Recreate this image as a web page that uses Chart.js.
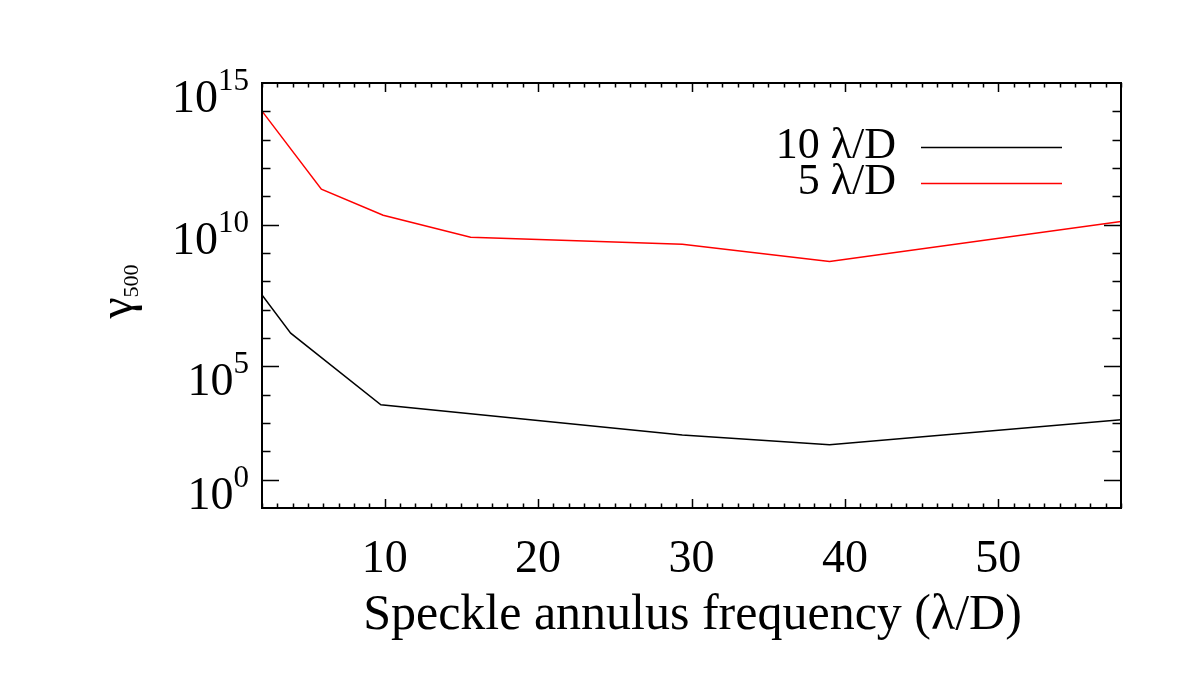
<!DOCTYPE html>
<html>
<head>
<meta charset="utf-8">
<script src="https://cdn.jsdelivr.net/npm/chart.js@4.4.1/dist/chart.umd.min.js"></script>
<style>
  html, body { margin: 0; padding: 0; background: #fff; }
  #wrap { width: 1200px; height: 675px; }
</style>
</head>
<body>
<div id="wrap"><canvas id="chart1" width="1200" height="675"></canvas></div>
<script>
// data (x in lambda/D, y = gamma_500)
const x10 = [2, 3.87, 9.75, 29.4, 39.0, 58];
const y10 = [3.31e7, 1.48e6, 4.37e3, 380, 170, 1.29e3];
const x5 = [2, 5.87, 9.9, 15.6, 29.4, 39.0, 58];
const y5 = [1.02e14, 1.78e11, 2.14e10, 3.63e9, 2.04e9, 5.01e8, 1.29e10];

const seriesLabels = ['10 \u03bb/D', '5 \u03bb/D'];
const xTickLabels = [10, 20, 30, 40, 50];
// major ticks on the y axis and the exponents printed next to them
// (the printed labels follow the original figure)
const yMajorTicks = [1e1, 1e5, 1e10, 1e15];
const yTickExponents = ['0', '5', '10', '15'];
const yMinorTicks = [1e1, 1e2, 1e3, 1e4, 1e5, 1e6, 1e7, 1e8, 1e9, 1e10, 1e11, 1e12, 1e13, 1e14];

const FONT = '"Liberation Serif", "DejaVu Serif", serif';

const toPoints = (xs, ys) => xs.map((x, i) => ({ x: x, y: ys[i] }));

const axesPlugin = {
    id: 'idlAxes',
    afterDraw(chart) {
        const ctx = chart.ctx;
        const xs = chart.scales.x, ys = chart.scales.y;
        const a = chart.chartArea;
        ctx.save();
        ctx.strokeStyle = '#000';
        ctx.fillStyle = '#000';
        ctx.lineWidth = 2;
        ctx.strokeRect(a.left, a.top, a.right - a.left, a.bottom - a.top);

        // x ticks, inward on bottom and top
        ctx.lineWidth = 1.5;
        ctx.beginPath();
        for (let v = Math.ceil(xs.min); v <= Math.floor(xs.max); v++) {
            const px = Math.round(xs.getPixelForValue(v)) + 0.5;
            const len = (v % 10 === 0) ? 9 : 4.5;
            ctx.moveTo(px, a.bottom); ctx.lineTo(px, a.bottom - len);
            ctx.moveTo(px, a.top); ctx.lineTo(px, a.top + len);
        }
        // y ticks, inward on left and right
        yMinorTicks.forEach(v => {
            const py = Math.round(ys.getPixelForValue(v)) + 0.5;
            const len = yMajorTicks.includes(v) ? 17 : 8.5;
            ctx.moveTo(a.left, py); ctx.lineTo(a.left + len, py);
            ctx.moveTo(a.right, py); ctx.lineTo(a.right - len, py);
        });
        ctx.stroke();

        // x tick labels
        ctx.font = '46px ' + FONT;
        ctx.textAlign = 'center';
        ctx.textBaseline = 'alphabetic';
        xTickLabels.forEach(v => {
            ctx.fillText(String(v), xs.getPixelForValue(v), 572);
        });
        // x title
        ctx.font = '50px ' + FONT;
        ctx.fillText('Speckle annulus frequency (\u03bb/D)', (a.left + a.right) / 2 + 1, 629);

        // y tick labels 10^n
        yMajorTicks.forEach((v, i) => {
            const py = ys.getPixelForValue(v);
            const sup = yTickExponents[i];
            ctx.font = '31px ' + FONT;
            const sw = ctx.measureText(sup).width;
            const right = a.left - 13;
            ctx.textAlign = 'right';
            ctx.fillText(sup, right, py + 7);
            ctx.font = '46px ' + FONT;
            ctx.fillText('10', right - sw, py + 29);
        });

        // y title: gamma with subscript 500, rotated
        ctx.translate(132, 296);
        ctx.rotate(-Math.PI / 2);
        ctx.textAlign = 'left';
        ctx.font = '48px ' + FONT;
        const gw = ctx.measureText('\u03b3').width;
        ctx.fillText('\u03b3', -gw / 2 - 12, 0);
        ctx.font = '22px ' + FONT;
        ctx.fillText('500', gw / 2 - 12, 6);
        ctx.restore();

        // legend: text on the left, line sample on the right
        ctx.save();
        ctx.font = '44px ' + FONT;
        ctx.textAlign = 'right';
        chart.data.datasets.forEach((ds, i) => {
            const base = 158 + i * 36;
            ctx.fillStyle = '#000';
            ctx.fillText(ds.label, 896, base);
            ctx.strokeStyle = ds.borderColor;
            ctx.lineWidth = 1.5;
            ctx.beginPath();
            ctx.moveTo(921, base - 10.5);
            ctx.lineTo(1062, base - 10.5);
            ctx.stroke();
        });
        ctx.restore();
    }
};

const chart1 = new Chart(document.getElementById('chart1').getContext('2d'), {
    type: 'line',
    data: {
        datasets: [
            { label: seriesLabels[0], data: toPoints(x10, y10), borderColor: '#000', borderWidth: 1.5, pointRadius: 0, fill: false, tension: 0 },
            { label: seriesLabels[1], data: toPoints(x5, y5), borderColor: '#ff0000', borderWidth: 1.5, pointRadius: 0, fill: false, tension: 0 }
        ]
    },
    options: {
        responsive: false,
        animation: false,
        layout: { padding: { left: 262, right: 79, top: 83, bottom: 167 } },
        plugins: { legend: { display: false }, tooltip: { enabled: false } },
        scales: {
            x: { type: 'linear', min: 2, max: 58, display: false },
            y: { type: 'logarithmic', min: 1, max: 1e15, display: false }
        }
    },
    plugins: [axesPlugin]
});
</script>
</body>
</html>
